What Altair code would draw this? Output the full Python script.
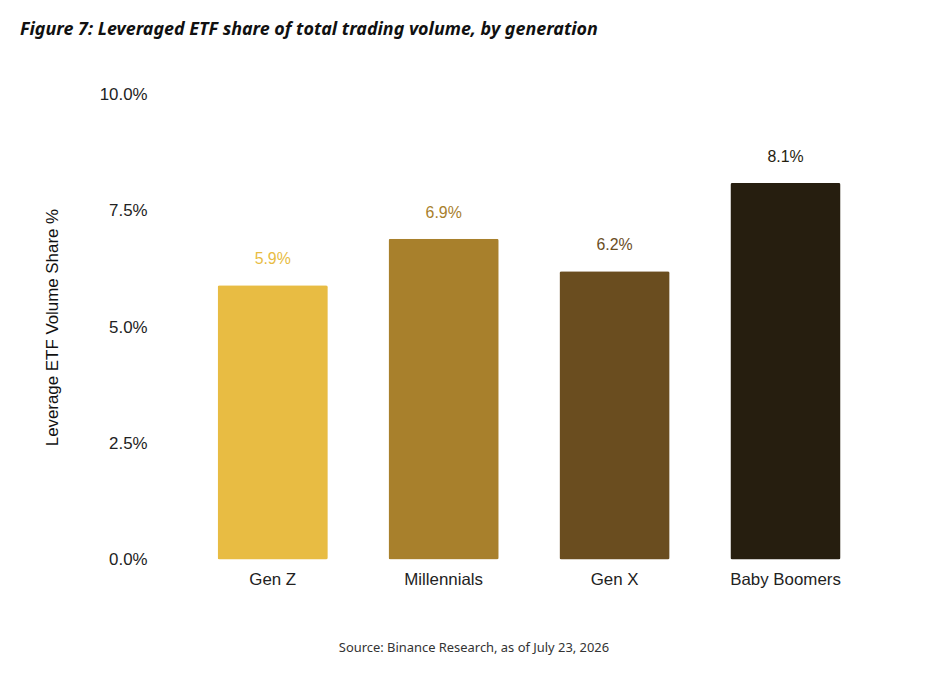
import pandas as pd
import altair as alt

generations = ["Gen Z", "Millennials", "Gen X", "Baby Boomers"]
shares = [5.9, 6.9, 6.2, 8.1]
colors = ["#E8BC43", "#A8802C", "#6A4D1F", "#261E0F"]

df = pd.DataFrame({"gen": generations, "share": shares,
                   "label": [f"{v:.1f}%" for v in shares]})

x = alt.X("gen:N", sort=generations, title=None,
          scale=alt.Scale(paddingInner=0.355, paddingOuter=0.18),
          axis=alt.Axis(labelAngle=0, labelFontSize=17, labelColor="#222",
                        labelPadding=12, ticks=False, domain=False,
                        labelFont="Liberation Sans"))
y = alt.Y("share:Q", title="Leverage ETF Volume Share %",
          scale=alt.Scale(domain=[0, 10]),
          axis=alt.Axis(values=[0, 2.5, 5, 7.5, 10], grid=False, domain=False, ticks=False,
                        labelExpr="format(datum.value, '.1f') + '%'",
                        labelFontSize=17, labelColor="#222", labelPadding=40,
                        titleFontSize=17, titleColor="#111", titleFontWeight="normal",
                        titlePadding=38, labelFont="Liberation Sans",
                        titleFont="Liberation Sans"))
color = alt.Color("gen:N", sort=generations, legend=None,
                  scale=alt.Scale(domain=generations, range=colors))

base = alt.Chart(df)
bars = base.mark_bar(cornerRadius=2).encode(x=x, y=y, color=color)
labels = base.mark_text(baseline="bottom", dy=-18, fontSize=16,
                        font="Liberation Sans").encode(
    x=x, y=y, text="label:N", color=color)

title = alt.Chart(pd.DataFrame({"t": ["Figure 7: Leveraged ETF share of total trading volume, by generation"]})).mark_text(
    align="left", baseline="middle", fontSize=18, fontWeight="bold", fontStyle="italic",
    font="Noto Sans", color="#111").encode(x=alt.value(-168), y=alt.value(-65), text="t:N")
source = alt.Chart(pd.DataFrame({"t": ["Source: Binance Research, as of July 23, 2026"]})).mark_text(
    align="center", baseline="middle", fontSize=13, font="Noto Sans", color="#333").encode(
    x=alt.value(289), y=alt.value(557), text="t:N")

chart = alt.layer(bars, labels, title, source).properties(
    width=689, height=468, autosize=alt.AutoSizeParams(type="none"),
    padding={"left": 180, "top": 85, "right": 60, "bottom": 110}
).configure_view(stroke=None)

chart.save("out.html", embed_options={"renderer": "svg", "actions": False})
